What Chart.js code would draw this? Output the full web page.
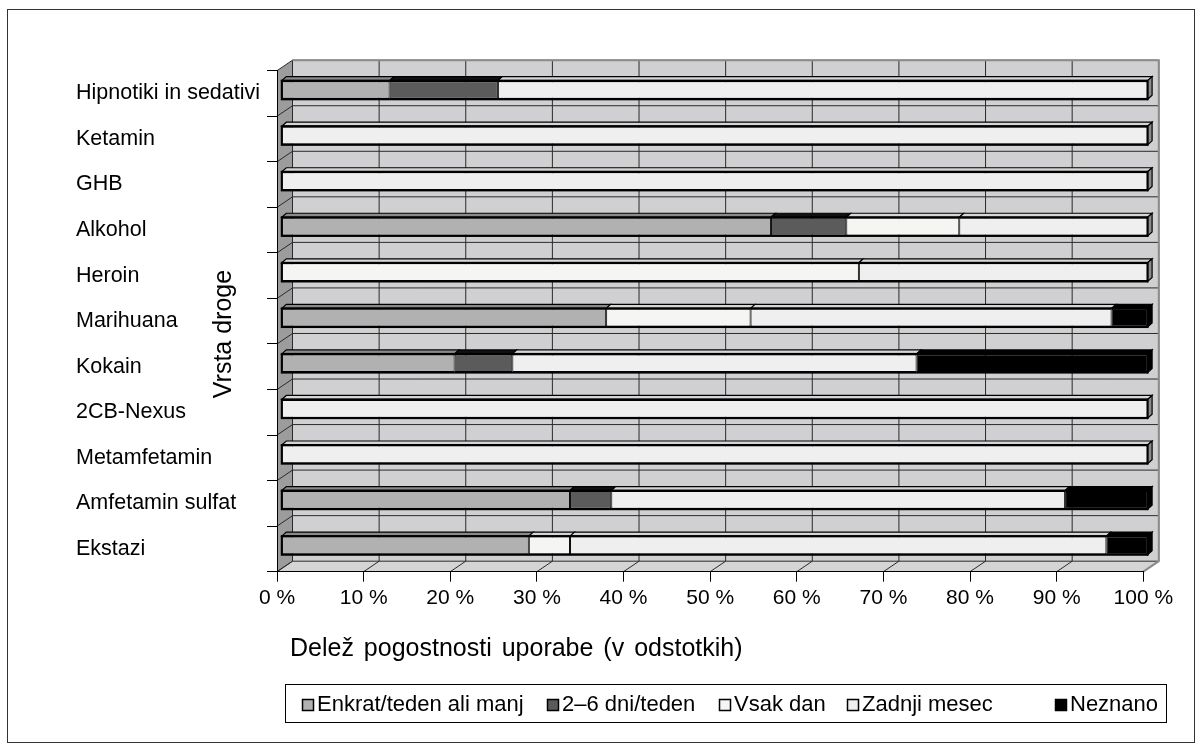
<!DOCTYPE html>
<html>
<head>
<meta charset="utf-8">
<script src="https://cdn.jsdelivr.net/npm/chart.js@4"></script>
<style>
html, body { margin: 0; padding: 0; background: #fff; }
canvas { display: block; }
</style>
</head>
<body>
<canvas id="grafica" width="1202" height="751"></canvas>
<script>
"use strict";

const categories = ["Hipnotiki in sedativi", "Ketamin", "GHB", "Alkohol", "Heroin", "Marihuana",
    "Kokain", "2CB-Nexus", "Metamfetamin", "Amfetamin sulfat", "Ekstazi"];
const seriesNames = ["Enkrat/teden ali manj", "2–6 dni/teden", "Vsak dan", "Zadnji mesec", "Neznano"];

const enkrat      = [12.5, 0, 0, 56.52, 0, 37.5, 20, 0, 0, 33.33, 28.57];
const dni26       = [12.5, 0, 0, 8.7, 0, 0, 6.67, 0, 0, 4.76, 0];
const vsakDan     = [0, 0, 0, 13.04, 66.67, 16.67, 0, 0, 0, 0, 4.76];
const zadnjiMesec = [75, 100, 100, 21.74, 33.33, 41.67, 46.66, 100, 100, 52.39, 61.91];
const neznano     = [0, 0, 0, 0, 0, 4.16, 26.67, 0, 0, 9.52, 4.76];

const xTicks = [0, 10, 20, 30, 40, 50, 60, 70, 80, 90, 100];
const xTitle = "Delež pogostnosti uporabe (v odstotkih)";
const yTitle = "Vrsta droge";

const colors    = ["#b1b1b1", "#5b5b5b", "#f5f5f4", "#efefef", "#000000"];
const topColors = ["#8a8a8a", "#111111", "#d6d6d6", "#d6d6d6", "#000000"];
const endColors = ["#8a8a8a", "#111111", "#8a8a8a", "#8a8a8a", "#000000"];

const FONT = "'Liberation Sans', Arial, sans-serif";
const DEPTH = { x: 15.5, y: -10.5 };     // globina stene
const BAR_SHIFT = { x: 4.3, y: -3.5 };   // stolpci so malo v globini
const BAR_DEPTH = { x: 4.5, y: -4 };

function poly(ctx, pts, fill, stroke, lw) {
    ctx.beginPath();
    ctx.moveTo(pts[0][0], pts[0][1]);
    for (let i = 1; i < pts.length; i++) ctx.lineTo(pts[i][0], pts[i][1]);
    ctx.closePath();
    if (fill) { ctx.fillStyle = fill; ctx.fill(); }
    if (stroke) { ctx.strokeStyle = stroke; ctx.lineWidth = lw || 1; ctx.stroke(); }
}

const wallsPlugin = {
    id: "walls",
    beforeDraw(chart) {
        const { ctx, chartArea: a, scales: { x, y } } = chart;
        const dx = DEPTH.x, dy = DEPTH.y;
        ctx.save();
        ctx.fillStyle = "#d0d0d2";
        ctx.fillRect(a.left + dx, a.top + dy, a.right - a.left, a.bottom - a.top);
        poly(ctx, [[a.left, a.top], [a.left + dx, a.top + dy], [a.left + dx, a.bottom + dy], [a.left, a.bottom]], "#9c9c9c");
        poly(ctx, [[a.left, a.bottom], [a.left + dx, a.bottom + dy], [a.right + dx, a.bottom + dy], [a.right, a.bottom]], "#d4d4d4");

        ctx.lineWidth = 1;
        ctx.strokeStyle = "#2a2a2a";
        ctx.beginPath();
        xTicks.forEach(v => {
            const px = x.getPixelForValue(v);
            ctx.moveTo(px + dx, a.top + dy);
            ctx.lineTo(px + dx, a.bottom + dy);
            ctx.moveTo(px, a.bottom);
            ctx.lineTo(px + dx, a.bottom + dy);
        });
        const step = y.getPixelForValue(1) - y.getPixelForValue(0);
        for (let i = 0; i <= categories.length; i++) {
            const yy = y.getPixelForValue(i) - step / 2;
            ctx.moveTo(a.left + dx, yy + dy);
            ctx.lineTo(a.right + dx, yy + dy);
            ctx.moveTo(a.left, yy);
            ctx.lineTo(a.left + dx, yy + dy);
        }
        ctx.stroke();

        ctx.strokeStyle = "#8c8c8c";
        ctx.lineWidth = 2;
        ctx.beginPath();
        ctx.moveTo(a.left + dx, a.top + dy);
        ctx.lineTo(a.right + dx, a.top + dy);
        ctx.lineTo(a.right + dx, a.bottom + dy);
        ctx.lineTo(a.right, a.bottom);
        ctx.stroke();
        ctx.restore();
    }
};

const bars3dPlugin = {
    id: "bars3d",
    beforeDatasetsDraw(chart) {
        chart.ctx.save();
        chart.ctx.translate(BAR_SHIFT.x, BAR_SHIFT.y);
    },
    afterDatasetsDraw(chart) {
        const ctx = chart.ctx;
        const bx = BAR_DEPTH.x, by = BAR_DEPTH.y;
        const rows = [];
        chart.data.datasets.forEach((ds, di) => {
            const meta = chart.getDatasetMeta(di);
            meta.data.forEach((el, i) => {
                if (ds.data[i] == null) return;
                const left = Math.min(el.x, el.base), right = Math.max(el.x, el.base);
                const top = el.y - el.height / 2, bottom = el.y + el.height / 2;
                poly(ctx, [[left, top], [left + bx, top + by], [right + bx, top + by], [right, top]], topColors[di], "#000", 1.2);
                const r = rows[i] || (rows[i] = { left: Infinity, right: -Infinity, top, bottom, di: 0 });
                r.left = Math.min(r.left, left);
                if (right >= r.right) { r.right = right; r.di = di; }
            });
        });
        rows.forEach(r => {
            if (!r) return;
            poly(ctx, [[r.right, r.top], [r.right + bx, r.top + by], [r.right + bx, r.bottom + by], [r.right, r.bottom]], endColors[r.di], "#000", 1.2);
            ctx.strokeStyle = "#000";
            ctx.lineWidth = 2;
            ctx.strokeRect(r.left, r.top, r.right - r.left, r.bottom - r.top);
        });
        ctx.restore();
    }
};

const extrasPlugin = {
    id: "extras",
    afterDraw(chart) {
        const ctx = chart.ctx;
        ctx.save();
        // okvir
        ctx.strokeStyle = "#333";
        ctx.lineWidth = 1;
        ctx.strokeRect(7.5, 9.5, 1187, 733);

        ctx.fillStyle = "#000";
        ctx.font = `25px ${FONT}`;
        ctx.textAlign = "left";
        ctx.textBaseline = "alphabetic";
        ctx.wordSpacing = "3px";
        ctx.fillText(xTitle, 290, 656);
        ctx.wordSpacing = "0px";

        ctx.save();
        ctx.translate(231, 334);
        ctx.rotate(-Math.PI / 2);
        ctx.textAlign = "center";
        ctx.fillText(yTitle, 0, 0);
        ctx.restore();

        // legenda
        ctx.strokeStyle = "#000";
        ctx.strokeRect(285.5, 684.5, 881, 38);
        const itemX = [302, 547, 719, 847, 1055];
        ctx.font = `22px ${FONT}`;
        ctx.textBaseline = "middle";
        ctx.textAlign = "left";
        seriesNames.forEach((name, i) => {
            ctx.fillStyle = colors[i];
            ctx.fillRect(itemX[i] + 0.5, 699.5, 11, 11);
            ctx.strokeStyle = "#000";
            ctx.lineWidth = 1.5;
            ctx.strokeRect(itemX[i] + 0.5, 699.5, 11, 11);
            ctx.fillStyle = "#000";
            ctx.fillText(name, itemX[i] + 15, 705);
        });
        ctx.restore();
    }
};

const series = [enkrat, dni26, vsakDan, zadnjiMesec, neznano];

new Chart(document.querySelector("#grafica"), {
    type: "bar",
    data: {
        labels: categories,
        datasets: series.map((values, i) => ({
            label: seriesNames[i],
            data: values.map(v => (v ? v : null)),
            backgroundColor: colors[i],
            borderColor: "#000",
            borderWidth: { top: 1.5, bottom: 1.5, left: 1, right: 1 },
            borderSkipped: false,
            categoryPercentage: 1,
            barPercentage: 0.41,
        })),
    },
    options: {
        indexAxis: "y",
        responsive: false,
        animation: false,
        devicePixelRatio: 1,
        layout: { padding: { left: 76, top: 70.7, right: 58.7, bottom: 0 } },
        plugins: {
            legend: { display: false },
            tooltip: { enabled: false },
        },
        datasets: { bar: { clip: false } },
        scales: {
            x: {
                stacked: true,
                min: 0,
                max: 100,
                afterFit: (scale) => { scale.height = 179.3; },
                afterBuildTicks: (scale) => { scale.ticks = xTicks.map(v => ({ value: v })); },
                ticks: {
                    color: "#000",
                    font: { family: FONT, size: 21 },
                    padding: 4,
                    maxRotation: 0,
                    callback: (v) => `${v} %`,
                },
                grid: { drawOnChartArea: false, drawTicks: true, tickLength: 10, color: "#000" },
                border: { display: true, color: "#000", width: 1 },
            },
            y: {
                stacked: true,
                afterFit: (scale) => { scale.width = 201; },
                ticks: {
                    color: "#000",
                    font: { family: FONT, size: 21.5 },
                    padding: 7,
                    crossAlign: "far",
                },
                grid: { drawOnChartArea: false, drawTicks: true, tickLength: 10, color: "#000", offset: true },
                border: { display: true, color: "#000", width: 1 },
            },
        },
    },
    plugins: [wallsPlugin, bars3dPlugin, extrasPlugin],
});
</script>
</body>
</html>
